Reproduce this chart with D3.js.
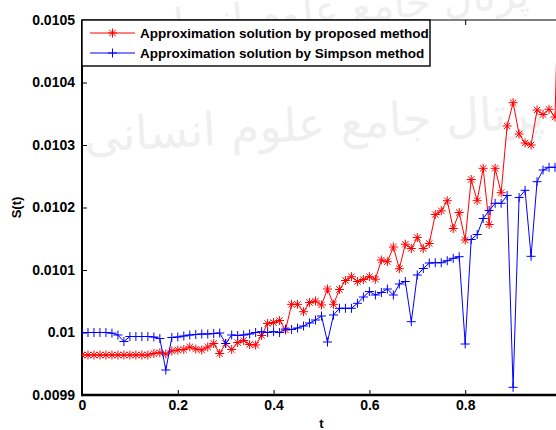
<!DOCTYPE html>
<html>
<head>
<meta charset="utf-8">
<script src="https://cdn.jsdelivr.net/npm/d3@7"></script>
<style>
body{margin:0;background:#fff;overflow:hidden}
svg text{font-family:"Liberation Sans",Arial,sans-serif;font-weight:bold;fill:#000}
</style>
</head>
<body>
<div id="chart"></div>
<script>
// time grid
var tValues = [0, 0.0125, 0.025, 0.0375, 0.05, 0.0625, 0.075, 0.0875, 0.1, 0.1125, 0.125, 0.1375, 0.15, 0.1625, 0.175, 0.1875,
  0.2, 0.2125, 0.225, 0.2375, 0.25, 0.2625, 0.275, 0.2875, 0.3, 0.3125, 0.325, 0.3375, 0.35, 0.3625, 0.375, 0.3875,
  0.4, 0.4125, 0.425, 0.4375, 0.45, 0.4625, 0.475, 0.4875, 0.5, 0.5125, 0.525, 0.5375, 0.55, 0.5625, 0.575, 0.5875,
  0.6, 0.6125, 0.625, 0.6375, 0.65, 0.6625, 0.675, 0.6875, 0.7, 0.7125, 0.725, 0.7375, 0.75, 0.7625, 0.775, 0.7875,
  0.8, 0.8125, 0.825, 0.8375, 0.85, 0.8625, 0.875, 0.8875, 0.9, 0.9125, 0.925, 0.9375, 0.95, 0.9625, 0.975, 0.9875, 1];

// approximation solution by proposed method (red *)
var proposedValues = [0.009964, 0.009964, 0.009964, 0.009964, 0.009964, 0.009964, 0.009964, 0.009964, 0.009964, 0.009964, 0.009964, 0.009964,
  0.0099664, 0.0099677, 0.0099656, 0.0099704, 0.009972, 0.0099728, 0.0099768, 0.0099736, 0.009972, 0.0099768, 0.0099824, 0.0099664,
  0.0099824, 0.0099728, 0.009984, 0.0099872, 0.0099808, 0.00998, 0.0099952, 0.0100144, 0.010016, 0.0100192, 0.010004, 0.0100451,
  0.0100451, 0.0100333, 0.010048, 0.0100504, 0.010044, 0.0100696, 0.0100451, 0.0100688, 0.0100832, 0.0100893, 0.0100816, 0.0100848,
  0.0100893, 0.0100853, 0.010116, 0.0101133, 0.0101368, 0.0101021, 0.0101413, 0.0101344, 0.010152, 0.0101344, 0.0101424, 0.0101888,
  0.0101947, 0.0102109, 0.0101664, 0.010192, 0.010148, 0.0102448, 0.0102109, 0.0102627, 0.0101728, 0.0102627, 0.0102237, 0.0103304,
  0.0103677, 0.0103176, 0.0103032, 0.0103, 0.010356, 0.0103488, 0.0103571, 0.0103448, 0.0107];

// approximation solution by Simpson method (blue +)
var simpsonValues = [0.01, 0.01, 0.01, 0.01, 0.01, 0.009999, 0.009996, 0.0099856, 0.0099936, 0.0099936, 0.0099936, 0.0099936,
  0.0099928, 0.0099904, 0.00994, 0.009992, 0.0099928, 0.0099944, 0.009996, 0.0099968, 0.0099976, 0.0099976, 0.0099984, 0.0099992,
  0.0099824, 0.009996, 0.0099952, 0.009996, 0.0099976, 0.01, 0.0100013, 0.01, 0.0100013, 0.01, 0.0100056, 0.0100048,
  0.0100072, 0.0100104, 0.0100152, 0.01002, 0.0100264, 0.0099848, 0.010028, 0.0100387, 0.0100387, 0.0100387, 0.0100467, 0.0100568,
  0.0100656, 0.01006, 0.010064, 0.0100696, 0.01006, 0.0100776, 0.0100816, 0.0100173, 0.010092, 0.0101024, 0.0101112, 0.0101117,
  0.0101117, 0.0101149, 0.0101187, 0.0101213, 0.0099816, 0.0101488, 0.0101568, 0.0101824, 0.0101952, 0.0102067, 0.0102067, 0.0102192,
  0.0099123, 0.010216, 0.0102275, 0.0101219, 0.0102413, 0.01026, 0.0102643, 0.0102643, 0.0102643];

var xTicks = [0, 0.2, 0.4, 0.6, 0.8, 1];
var xTickLabels = ["0", "0.2", "0.4", "0.6", "0.8", ""]; // the "1" label falls outside the picture
var yTicks = [0.0099, 0.01, 0.0101, 0.0102, 0.0103, 0.0104, 0.0105];
var yTickLabels = ["0.0099", "0.01", "0.0101", "0.0102", "0.0103", "0.0104", "0.0105"];
var seriesNames = ["Approximation solution by proposed method", "Approximation solution by Simpson method"];

var W = 556, H = 430;
var pL = 82, pR = 561, pT = 20, pB = 395;

var svg = d3.select("#chart").append("svg")
  .attr("width", W).attr("height", H);

// faint watermark behind the plot
svg.append("text")
  .attr("transform", "translate(330,24) rotate(-5)")
  .attr("text-anchor", "middle")
  .attr("direction", "rtl")
  .style("font-family", "DejaVu Sans")
  .style("font-weight", "normal")
  .style("font-size", "40px")
  .style("fill", "#efefef")
  .text("پرتال جامع علوم انسانی");
svg.append("text")
  .attr("transform", "translate(315,140) rotate(-3)")
  .attr("text-anchor", "middle")
  .attr("direction", "rtl")
  .style("font-family", "DejaVu Sans")
  .style("font-weight", "normal")
  .style("font-size", "46px")
  .style("fill", "#efefef")
  .text("پرتال جامع علوم انسانی");

var x = d3.scaleLinear().domain([0, 1]).range([pL, pR]);
var y = d3.scaleLinear().domain([0.0099, 0.0105]).range([pB, pT]);

svg.append("defs").append("clipPath").attr("id", "plotclip")
  .append("rect").attr("x", pL).attr("y", pT).attr("width", pR - pL).attr("height", pB - pT);

// axes with inward ticks
var gx = svg.append("g").attr("transform", "translate(0," + pB + ")")
  .call(d3.axisBottom(x).tickValues(xTicks).tickFormat(function(d, i) { return xTickLabels[i]; })
    .tickSizeInner(-5).tickSizeOuter(0).tickPadding(5));
var gy = svg.append("g").attr("transform", "translate(" + pL + ",0)")
  .call(d3.axisLeft(y).tickValues(yTicks).tickFormat(function(d, i) { return yTickLabels[i]; })
    .tickSizeInner(-5).tickSizeOuter(0).tickPadding(7));
var gt = svg.append("g").attr("transform", "translate(0," + pT + ")")
  .call(d3.axisTop(x).tickValues(xTicks).tickFormat("").tickSizeInner(-5).tickSizeOuter(0));
var gr = svg.append("g").attr("transform", "translate(" + pR + ",0)")
  .call(d3.axisRight(y).tickValues(yTicks).tickFormat("").tickSizeInner(-5).tickSizeOuter(0));

[gx, gy, gt, gr].forEach(function(g) {
  g.select(".domain").remove();
  g.selectAll(".tick line").attr("stroke", "#000").attr("stroke-width", 1);
  g.selectAll(".tick text").style("font-size", "14px").style("font-family", null);
});

// box lines
svg.append("line").attr("x1", pL).attr("x2", pR).attr("y1", pT).attr("y2", pT)
  .attr("stroke", "#000").attr("stroke-width", 1.2);
svg.append("line").attr("x1", pR).attr("x2", pR).attr("y1", pT).attr("y2", pB)
  .attr("stroke", "#000").attr("stroke-width", 1.2);
svg.append("line").attr("x1", pL).attr("x2", pR).attr("y1", pB).attr("y2", pB)
  .attr("stroke", "#000").attr("stroke-width", 2.5);
svg.append("line").attr("x1", pL).attr("x2", pL).attr("y1", pT).attr("y2", pB + 1.25)
  .attr("stroke", "#000").attr("stroke-width", 2);

var asterisk = "M-4.5,0H4.5M0,-4.5V4.5M-3.2,-3.2L3.2,3.2M-3.2,3.2L3.2,-3.2";
var plus = "M-4.5,0H4.5M0,-4.5V4.5";

var series = [
  { name: seriesNames[0], values: proposedValues, color: "#ff0000", marker: asterisk },
  { name: seriesNames[1], values: simpsonValues, color: "#0000ff", marker: plus }
];

var plot = svg.append("g").attr("clip-path", "url(#plotclip)");
var line = d3.line()
  .x(function(d, i) { return x(tValues[i]); })
  .y(function(d) { return y(d); });

series.forEach(function(s) {
  plot.append("path").datum(s.values)
    .attr("d", line)
    .attr("fill", "none")
    .attr("stroke", s.color)
    .attr("stroke-width", 1);
  plot.selectAll(null).data(s.values).enter().append("path")
    .attr("transform", function(d, i) { return "translate(" + x(tValues[i]) + "," + y(d) + ")"; })
    .attr("d", s.marker)
    .attr("fill", "none")
    .attr("stroke", s.color)
    .attr("stroke-width", 1);
});

// legend
var lg = svg.append("g");
lg.append("rect").attr("x", pL).attr("y", pT).attr("width", 348).attr("height", 46)
  .attr("fill", "#fff").attr("stroke", "#000").attr("stroke-width", 1.4);
series.forEach(function(s, i) {
  var ly = pT + 13 + i * 20;
  lg.append("line").attr("x1", 90).attr("x2", 135).attr("y1", ly).attr("y2", ly)
    .attr("stroke", s.color).attr("stroke-width", 1);
  lg.append("path").attr("transform", "translate(112.5," + ly + ")").attr("d", s.marker)
    .attr("fill", "none").attr("stroke", s.color).attr("stroke-width", 1);
  lg.append("text").attr("x", 140).attr("y", ly + 5).style("font-size", "13.5px").text(s.name);
});

// axis titles
svg.append("text").attr("x", (pL + pR) / 2).attr("y", 428)
  .attr("text-anchor", "middle").style("font-size", "13px").text("t");
svg.append("text").attr("transform", "translate(21," + (pT + pB) / 2 + ") rotate(-90)")
  .attr("text-anchor", "middle").style("font-size", "13px").text("S(t)");
</script>
</body>
</html>
